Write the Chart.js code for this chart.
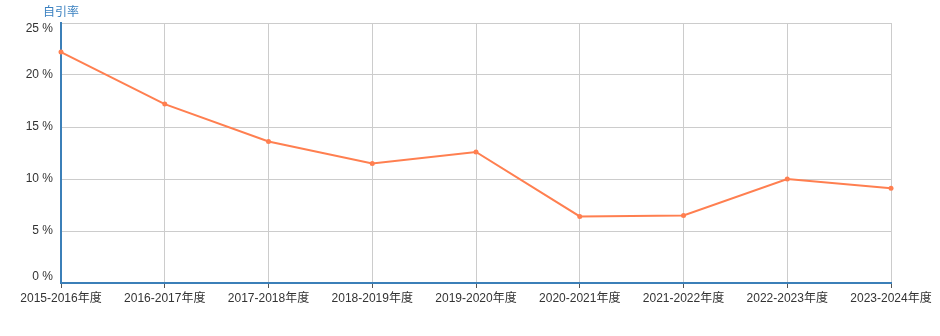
<!DOCTYPE html>
<html>
<head>
<meta charset="utf-8">
<script src="https://cdn.jsdelivr.net/npm/chart.js@4/dist/chart.umd.min.js"></script>
<style>
html,body{margin:0;padding:0;background:#fff;}
#wrap{width:940px;height:336px;}
</style>
</head>
<body>
<div id="wrap"><canvas id="c" width="940" height="336"></canvas></div>
<script>
const categories = ["2015-2016年度","2016-2017年度","2017-2018年度","2018-2019年度","2019-2020年度","2020-2021年度","2021-2022年度","2022-2023年度","2023-2024年度"];
const selfCitationRate = [22.2, 17.2, 13.6, 11.5, 12.6, 6.4, 6.5, 10.0, 9.1];
const yTickValues = [0, 5, 10, 15, 20, 25];
const axisName = "自引率";

const FONT = '"Liberation Sans", "Noto Sans CJK SC", sans-serif';

const axisNamePlugin = {
  id: 'axisName',
  beforeDraw(chart) {
    // keep the end labels of the value axis inside the plot's vertical range
    const y = chart.scales.y;
    const items = y.getLabelItems();
    items.forEach((it, i) => {
      const v = y.ticks[i] && y.ticks[i].value;
      if (v === y.max) it.options.translation = [it.options.translation[0], it.options.translation[1] + 6];
      if (v === y.min) it.options.translation = [it.options.translation[0], it.options.translation[1] - 6];
    });
  },
  afterDraw(chart) {
    const ctx = chart.ctx;
    ctx.save();
    ctx.font = '12px ' + FONT;
    ctx.fillStyle = '#3a80c0';
    ctx.textAlign = 'center';
    ctx.textBaseline = 'middle';
    ctx.fillText(axisName, chart.chartArea.left, 13);
    ctx.restore();
  }
};

new Chart(document.getElementById('c'), {
  type: 'line',
  data: {
    labels: categories,
    datasets: [{
      label: axisName,
      data: selfCitationRate,
      borderColor: '#ff7f50',
      backgroundColor: '#ff7f50',
      borderWidth: 2,
      pointRadius: 2.5,
      pointHoverRadius: 3,
      pointBorderWidth: 0,
      tension: 0,
      fill: false
    }]
  },
  options: {
    responsive: false,
    animation: false,
    layout: { padding: { top: 23, right: 49, left: 0, bottom: 0 } },
    plugins: {
      legend: { display: false },
      tooltip: { enabled: false }
    },
    scales: {
      x: {
        offset: false,
        grid: { color: '#cccccc', lineWidth: 1, drawTicks: true, tickLength: 5, tickColor: '#555555' },
        border: { display: true, color: '#3b7fb8', width: 2 },
        ticks: { color: '#333333', font: { size: 12, family: FONT }, padding: 3, maxRotation: 0, autoSkip: false },
        afterFit(scale) { scale.height = 53; }
      },
      y: {
        min: 0,
        max: 25,
        afterBuildTicks(scale) { scale.ticks = yTickValues.map(v => ({ value: v })); },
        grid: { color: '#cccccc', lineWidth: 1, drawTicks: false },
        border: { display: true, color: '#3b7fb8', width: 2 },
        ticks: { color: '#333333', font: { size: 12, family: FONT }, padding: 8, callback: v => v + ' %' },
        afterFit(scale) { scale.width = 61; }
      }
    }
  },
  plugins: [axisNamePlugin]
});
</script>
</body>
</html>
